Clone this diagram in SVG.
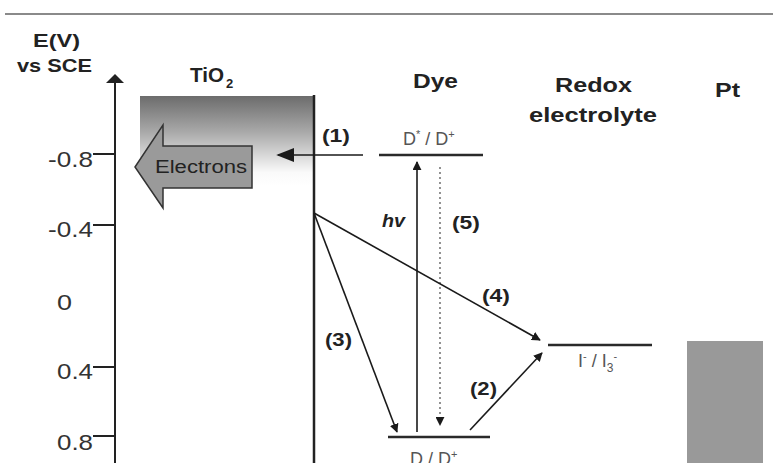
<svg xmlns="http://www.w3.org/2000/svg" width="773" height="463" viewBox="0 0 773 463">
<defs>
<linearGradient id="tio2g" x1="0" y1="0" x2="0" y2="1">
<stop offset="0" stop-color="#6c6c6c"/>
<stop offset="0.4" stop-color="#a9a9a9"/>
<stop offset="0.85" stop-color="#fafafa"/>
<stop offset="1" stop-color="#ffffff"/>
</linearGradient>
<marker id="ah" viewBox="0 0 10 10" refX="9" refY="5" markerWidth="9" markerHeight="9" markerUnits="userSpaceOnUse" orient="auto"><path d="M0,0 L10,5 L0,10 z" fill="#1a1a1a"/></marker>
<marker id="ahBig" viewBox="0 0 10 10" refX="9" refY="5" markerWidth="18" markerHeight="18" markerUnits="userSpaceOnUse" orient="auto"><path d="M0,1 L10,5 L0,9 z" fill="#1a1a1a"/></marker>
</defs>
<style>
text{font-family:"Liberation Sans",Arial,sans-serif;fill:#222}
.b{font-weight:bold}
.h{font-size:20px;font-weight:bold}
.lbl{font-size:19px;font-weight:bold}
.tick{font-size:22px;fill:#333}
.lvl{stroke:#2a2a2a;stroke-width:2.5}
.con{stroke:#1a1a1a;stroke-width:1.6;fill:none}
.st{font-size:18px;fill:#555}
</style>
<line x1="5" y1="14" x2="773" y2="14" stroke="#8a8a8a" stroke-width="2"/>
<g id="axis">
<text class="b" x="33" y="47" font-size="18" textLength="47" lengthAdjust="spacingAndGlyphs">E(V)</text>
<text class="b" x="17" y="72" font-size="18" textLength="75" lengthAdjust="spacingAndGlyphs">vs SCE</text>
<line x1="115" y1="82" x2="115" y2="463" stroke="#222" stroke-width="2"/>
<path d="M106,83 L115,74 L124,83 z" fill="#222"/>
<line x1="93" y1="154" x2="115" y2="154" stroke="#222" stroke-width="2"/>
<line x1="93" y1="225" x2="115" y2="225" stroke="#222" stroke-width="2"/>
<line x1="93" y1="367" x2="115" y2="367" stroke="#222" stroke-width="2"/>
<line x1="93" y1="436" x2="115" y2="436" stroke="#222" stroke-width="2"/>
<text class="tick" x="48" y="167" textLength="45" lengthAdjust="spacingAndGlyphs">-0.8</text>
<text class="tick" x="48" y="237" textLength="45" lengthAdjust="spacingAndGlyphs">-0.4</text>
<text class="tick" x="57" y="310" textLength="15" lengthAdjust="spacingAndGlyphs">0</text>
<text class="tick" x="57" y="379" textLength="36" lengthAdjust="spacingAndGlyphs">0.4</text>
<text class="tick" x="57" y="450" textLength="36" lengthAdjust="spacingAndGlyphs">0.8</text>
</g>
<g id="tio2">
<rect x="140" y="96" width="174" height="90" fill="url(#tio2g)"/>
<line x1="314" y1="95" x2="314" y2="463" stroke="#222" stroke-width="2.5"/>
<text class="b" x="190" y="82" font-size="21" textLength="34" lengthAdjust="spacingAndGlyphs">TiO</text>
<text class="b" x="226" y="88" font-size="13">2</text>
</g>
<g id="electrons">
<path d="M135,167 L163,125 L163,146 L252,146 L252,188 L163,188 L163,208 z" fill="#9a9a9a" stroke="#333" stroke-width="1.5"/>
<text x="155" y="173" font-size="18" fill="#333" textLength="92" lengthAdjust="spacingAndGlyphs">Electrons</text>
</g>
<g id="dye">
<text class="h" x="413" y="88" textLength="45" lengthAdjust="spacingAndGlyphs">Dye</text>
<line class="lvl" x1="379" y1="155" x2="483" y2="155"/>
<text class="st" x="403" y="145">D<tspan font-size="11" dy="-7">*</tspan><tspan dy="7"> / D</tspan><tspan font-size="11" dy="-7">+</tspan></text>
<line class="lvl" x1="388" y1="437" x2="490" y2="437"/>
<text class="st" x="410" y="465">D / D<tspan font-size="11" dy="-7">+</tspan></text>
</g>
<g id="redox">
<text class="h" x="555" y="92" textLength="77" lengthAdjust="spacingAndGlyphs">Redox</text>
<text class="h" x="529" y="122" textLength="128" lengthAdjust="spacingAndGlyphs">electrolyte</text>
<line class="lvl" x1="548" y1="345" x2="652" y2="345"/>
<text class="st" x="578" y="367">I<tspan font-size="11" dy="-7">-</tspan><tspan dy="7"> / I</tspan><tspan font-size="12" dy="5">3</tspan><tspan font-size="11" dy="-12">-</tspan></text>
</g>
<g id="pt">
<text class="h" x="715" y="97" textLength="25" lengthAdjust="spacingAndGlyphs">Pt</text>
<rect x="687" y="341" width="76" height="122" fill="#999"/>
</g>
<g id="connectors">
<line class="con" x1="363" y1="155" x2="278" y2="155" stroke-width="2" marker-end="url(#ahBig)"/>
<text class="lbl" x="322" y="142" textLength="28" lengthAdjust="spacingAndGlyphs">(1)</text>
<line class="con" x1="417" y1="432" x2="417" y2="162" marker-end="url(#ah)"/>
<text class="b" x="382" y="227" font-size="19" font-style="italic" textLength="23" lengthAdjust="spacingAndGlyphs">hv</text>
<line x1="440" y1="167" x2="440" y2="425" stroke="#777" stroke-width="1.6" stroke-dasharray="2,3" marker-end="url(#ah)"/>
<text class="lbl" x="452" y="229" textLength="28" lengthAdjust="spacingAndGlyphs">(5)</text>
<line class="con" x1="314" y1="213" x2="397" y2="432" marker-end="url(#ah)"/>
<text class="lbl" x="325" y="346" textLength="27" lengthAdjust="spacingAndGlyphs">(3)</text>
<line class="con" x1="314" y1="213" x2="540" y2="340" marker-end="url(#ah)"/>
<text class="lbl" x="482" y="302" textLength="28" lengthAdjust="spacingAndGlyphs">(4)</text>
<line class="con" x1="470" y1="430" x2="542" y2="353" marker-end="url(#ah)"/>
<text class="lbl" x="470" y="395" textLength="27" lengthAdjust="spacingAndGlyphs">(2)</text>
</g>
</svg>
